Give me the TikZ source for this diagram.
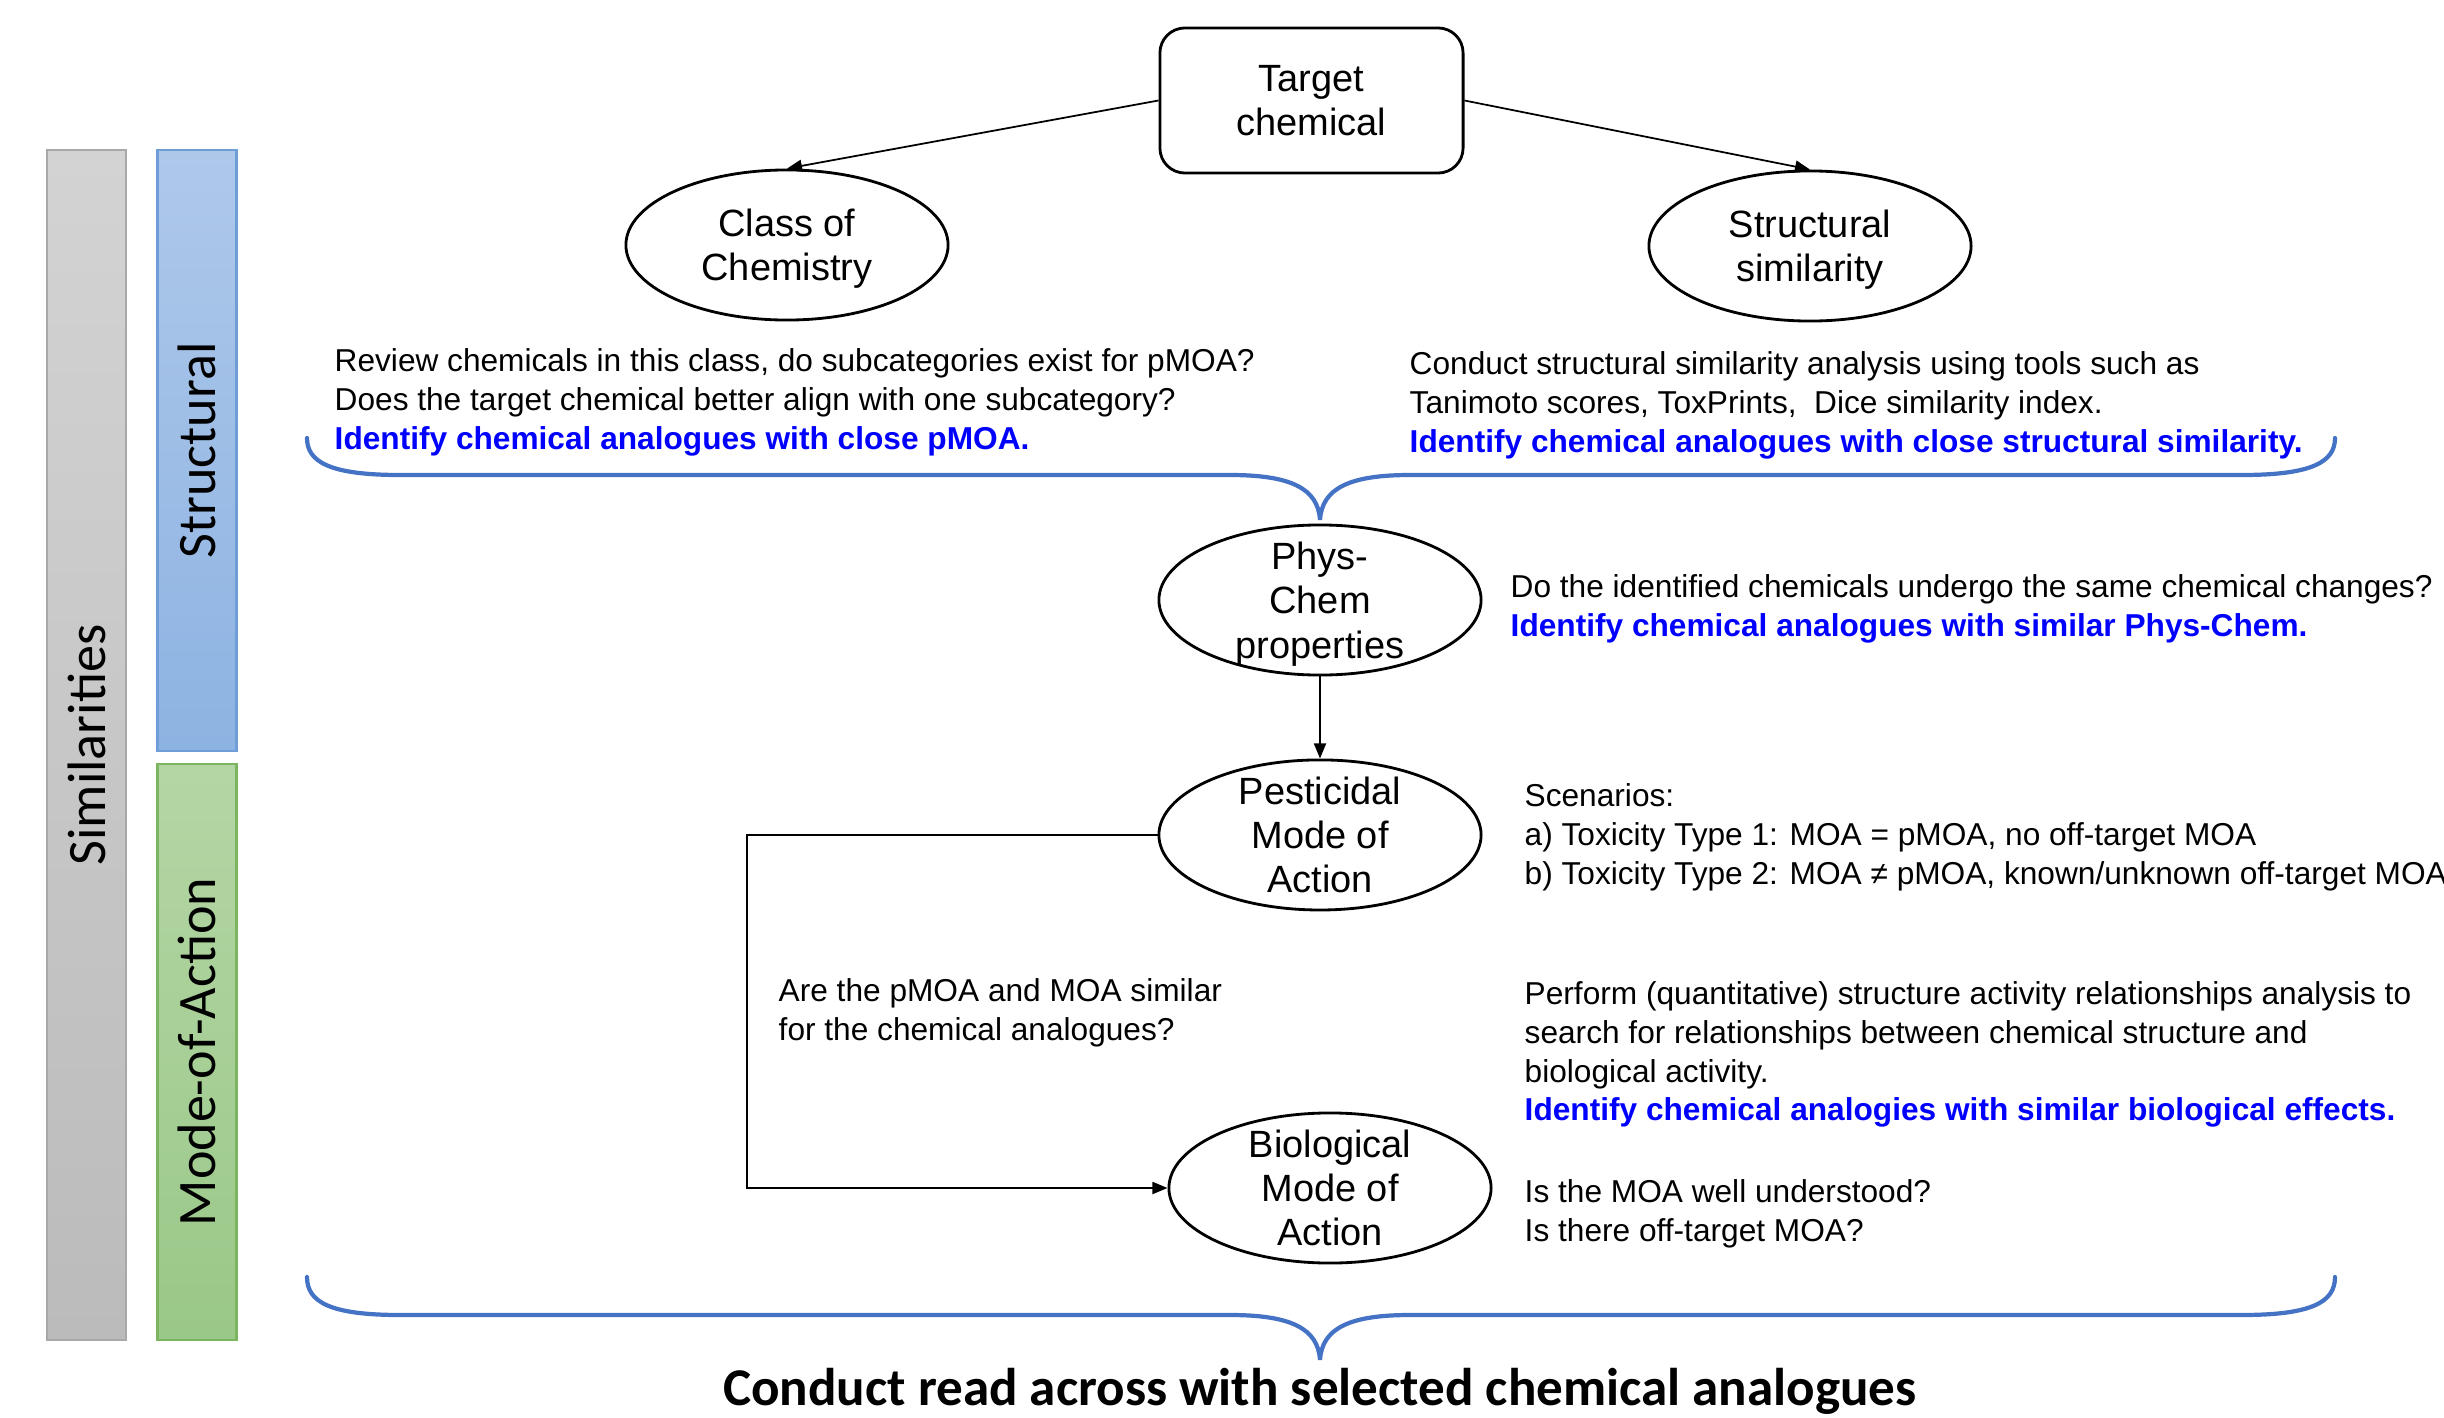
\documentclass[tikz,border=0pt]{standalone}
\usepackage{fontspec}
\setmainfont{Liberation Sans}
\newfontfamily\calfont{Carlito}
\usepackage{xcolor}
\definecolor{ink}{HTML}{000000}
\definecolor{bracec}{HTML}{4472C4}
\definecolor{keyc}{HTML}{0000FF}
\definecolor{grayl}{HTML}{D3D3D3}
\definecolor{grayr}{HTML}{BBBBBB}
\definecolor{grayb}{HTML}{A8A8A8}
\definecolor{bluel}{HTML}{AEC8EA}
\definecolor{bluer}{HTML}{8DB3E2}
\definecolor{blueb}{HTML}{6E9DD8}
\definecolor{greenl}{HTML}{B4D6A5}
\definecolor{greenr}{HTML}{9AC888}
\definecolor{greenb}{HTML}{7CB55F}
\usetikzlibrary{arrows.meta,positioning,shapes.geometric}
\newcommand\keyline[1]{\textcolor{keyc}{\textbf{#1}}}

\begin{document}
\begin{tikzpicture}[x=0.01cm,y=-0.01cm,every node/.style={font=\fontsize{9}{11}\selectfont}]
\tikzstyle{bar}=[rotate=90,draw,line width=0.6pt,minimum height=0.79cm,inner sep=0pt,font=\calfont\fontsize{15.4}{17}\selectfont]
\tikzstyle{ell}=[ellipse,draw,line width=0.8pt,minimum width=3.22cm,minimum height=1.5cm,inner sep=-6pt,align=center,font=\fontsize{10.8}{12.6}\selectfont]
\tikzstyle{txt}=[anchor=north west,inner sep=0pt,align=left]
\tikzstyle{arr}=[-{Triangle[length=1.5mm,width=1.2mm]},line width=0.5pt,ink]
\tikzstyle{brace}=[bracec,line width=1.2pt,line cap=round]
\useasboundingbox (0,0) rectangle (2444,1418);
% side bars
\node[bar,draw=grayb,top color=grayl,bottom color=grayr,minimum width=11.9cm] (simbar) at (86.5,745) {Similarities};
\node[bar,draw=blueb,top color=bluel,bottom color=bluer,minimum width=6.01cm] (structbar) at (197,450.5) {Structural};
\node[bar,draw=greenb,top color=greenl,bottom color=greenr,minimum width=5.76cm] (moabar) at (197,1052) {Mode-of-Action};
% nodes
\node[draw,line width=0.8pt,rounded corners=0.25cm,minimum width=3.03cm,minimum height=1.45cm,align=center,font=\fontsize{10.8}{12.6}\selectfont] (target) at (1311.5,100.5) {Target\\chemical};
\node[ell] (classchem) at (787,245) {Class of\\\smash{Chemistry}};
\node[ell] (structsim) at (1810,246) {Structural\\\smash{similarity}};
\node[ell] (physchem) at (1320,600) {Phys-\\Chem\\\smash{properties}};
\node[ell,below=0.82cm of physchem] (pestmoa) {Pesticidal\\Mode of\\Action};
\node[ell] (biomoa) at (1330,1188) {Biological\\Mode of\\Action};
\coordinate (bend) at ([xshift=-4.1cm]pestmoa.west);
% connectors
\draw[arr] (target.west) -- (classchem.north);
\draw[arr] (target.east) -- (structsim.north);
\draw[arr] (physchem.south) -- (pestmoa.north);
\draw[arr] (pestmoa.west) -- (bend) |- (biomoa.west);
% texts
\node[txt] (classtxt) at (334,348) {Review chemicals in this class, do subcategories exist for pMOA?\\Does the target chemical better align with one subcategory?\\\keyline{Identify chemical analogues with close pMOA.}};
\node[txt] (simtxt) at (1409,351) {Conduct structural similarity analysis using tools such as\\Tanimoto scores, ToxPrints,\ \ Dice similarity index.\\\keyline{Identify chemical analogues with close structural similarity.}};
\node[txt] (phystxt) at (1510,574) {Do the identified chemicals undergo the same chemical changes?\\\keyline{Identify chemical analogues with similar Phys-Chem.}};
\node[txt] (scentxt) at (1524,783) {Scenarios:\\a) Toxicity Type 1: MOA = pMOA, no off-target MOA\\b) Toxicity Type 2: MOA ≠ pMOA, known/unknown off-target MOA};
\node[txt] (asktxt) at (778,978) {Are the pMOA and MOA similar\\for the chemical analogues?};
\node[txt] (qsartxt) at (1524,981) {Perform (quantitative) structure activity relationships analysis to\\search for relationships between chemical structure and\\biological activity.\\\keyline{Identify chemical analogies with similar biological effects.}};
\node[txt] (moatxt) at (1524,1179) {Is the MOA well understood?\\Is there off-target MOA?};
% braces
\draw[brace] (307,438) .. controls (307,462) and (330,475) .. (400,475) -- (1230,475) .. controls (1290,475) and (1318,488) .. (1320,520) .. controls (1322,488) and (1350,475) .. (1410,475) -- (2242,475) .. controls (2312,475) and (2335,462) .. (2335,438);
\draw[brace] (307,1277) .. controls (307,1302) and (330,1315) .. (400,1315) -- (1230,1315) .. controls (1290,1315) and (1318,1328) .. (1320,1360) .. controls (1322,1328) and (1350,1315) .. (1410,1315) -- (2242,1315) .. controls (2312,1315) and (2335,1302) .. (2335,1277);
\node[font=\calfont\bfseries\fontsize{15.1}{17}\selectfont] (readacross) at (1320,1391) {Conduct read across with selected chemical analogues};
\end{tikzpicture}
\end{document}
